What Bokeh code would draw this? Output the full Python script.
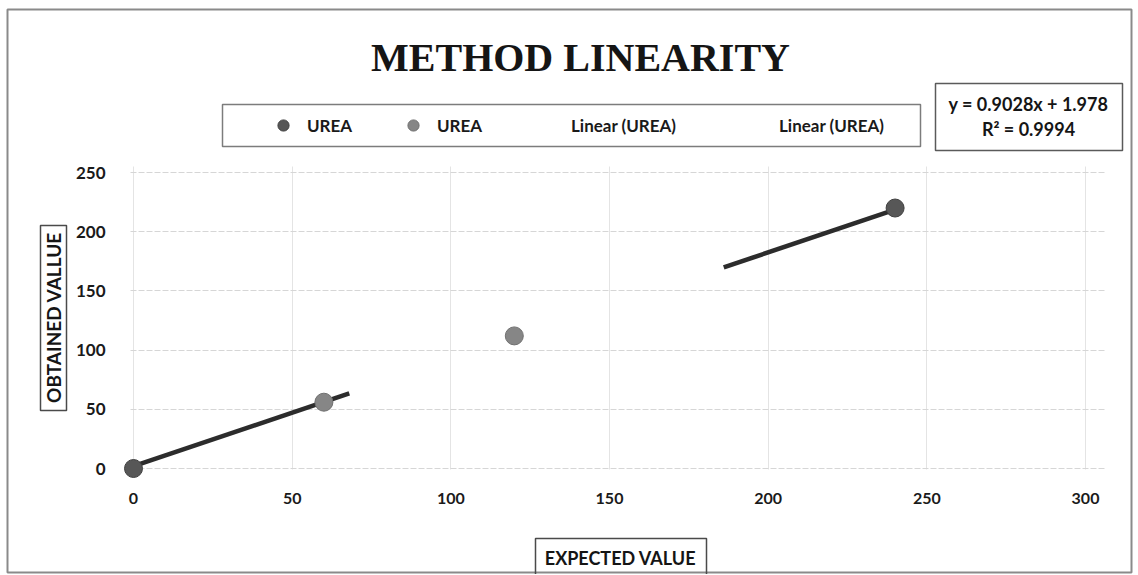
import math
from bokeh.plotting import figure
from bokeh.models import Range1d, Label, Legend, LegendItem, FixedTicker, BoxAnnotation, Grid
from bokeh.embed import file_html
from bokeh.resources import INLINE

# ---------------- data ----------------
title_text = "METHOD LINEARITY"
x_title = "EXPECTED VALUE"
y_title = "OBTAINED VALLUE"
series_name = "UREA"
series1_x = [0, 240]
series1_y = [0, 220]
series2_x = [60, 120]
series2_y = [56, 112]
slope = 0.9028
intercept = 1.978
r_squared = 0.9994
trend1_x = [0, 68]
trend2_x = [186, 240]
x_ticks = [0, 50, 100, 150, 200, 250, 300]
y_ticks = [0, 50, 100, 150, 200, 250]

# ---------------- layout ----------------
W, H = 1136, 574
FONT = "Lato"
# pixel positions of the plot area (canvas px, from top-left)
px_x0, px_x300 = 133.0, 1085.0
px_y0, px_y250 = 468.0, 172.0
sx = (px_x300 - px_x0) / 300.0
sy = (px_y0 - px_y250) / 250.0
x_start = -px_x0 / sx
x_end = 300.0 + (W - px_x300) / sx
y_end = 250.0 + px_y250 / sy
y_start = -(H - px_y0) / sy


def up(y):  # canvas y (top-down) -> screen y (bottom-up)
    return H - y


p = figure(width=W, height=H, output_backend="svg", toolbar_location=None,
           title_location=None,
           x_range=Range1d(x_start, x_end), y_range=Range1d(y_start, y_end),
           min_border=0, min_border_left=0, min_border_right=0,
           min_border_top=0, min_border_bottom=0)
p.background_fill_color = "white"
p.border_fill_color = "white"
p.outline_line_color = None

# axes (drawn at the data origin, labels outside the plot area)
for ax in (p.xaxis[0], p.yaxis[0]):
    ax.fixed_location = 0
    ax.axis_line_color = None
    ax.major_tick_line_color = None
    ax.minor_tick_line_color = None
    ax.major_label_text_font = FONT
    ax.major_label_text_font_style = "bold"
    ax.major_label_text_color = "#1a1a1a"
p.xaxis[0].ticker = FixedTicker(ticks=x_ticks)
p.yaxis[0].ticker = FixedTicker(ticks=y_ticks)
p.xaxis[0].major_label_text_font_size = "16px"
p.yaxis[0].major_label_text_font_size = "17px"
p.xaxis[0].major_label_standoff = 18
p.yaxis[0].major_label_standoff = 22

# grid limited to the plot area
xg, yg = p.xgrid[0], p.ygrid[0]
xg.ticker = FixedTicker(ticks=x_ticks)
yg.ticker = FixedTicker(ticks=y_ticks)
if "cross_bounds" in Grid.properties():
    xg.cross_bounds = (-1, 255)
    yg.cross_bounds = (-1, 306)
    xg.grid_line_color = "#e4e4e4"
    yg.grid_line_color = "#d6d6d6"
    yg.grid_line_dash = "6 2"
else:
    xg.grid_line_color = None
    yg.grid_line_color = None
    p.segment(x0=x_ticks, y0=[-1] * len(x_ticks), x1=x_ticks, y1=[255] * len(x_ticks),
              line_color="#e4e4e4", line_width=1)
    p.segment(x0=[-1] * len(y_ticks), y0=y_ticks, x1=[306] * len(y_ticks), y1=y_ticks,
              line_color="#d6d6d6", line_width=1, line_dash="6 2")

# trendlines
t1y = [slope * x + intercept for x in trend1_x]
t2y = [slope * x + intercept for x in trend2_x]
p.line(trend1_x, t1y, line_color="#2c2c2c", line_width=4.5)
p.line(trend2_x, t2y, line_color="#2c2c2c", line_width=4.5)

# points
r1 = p.scatter(series1_x, series1_y, size=18, fill_color="#575757", line_color="#414141")
r2 = p.scatter(series2_x, series2_y, size=18, fill_color="#868686", line_color="#707070")
d1 = p.line([], [], line_alpha=0)
d2 = p.line([], [], line_alpha=0)


def box(left, right, top, bottom, color="#6a6a6a", width=1.5):
    p.add_layout(BoxAnnotation(left=left, right=right, top=up(top), bottom=up(bottom),
                               left_units="screen", right_units="screen",
                               top_units="screen", bottom_units="screen",
                               fill_alpha=0, line_color=color, line_alpha=1.0,
                               line_width=width, level="overlay"))


def label(x, y, text, size, font=FONT, angle=0.0):
    p.add_layout(Label(x=x, y=up(y), x_units="screen", y_units="screen", text=text,
                       angle=angle, text_font=font, text_font_style="bold",
                       text_font_size=size, text_align="center", text_baseline="middle",
                       text_color="#151515"))


# outer chart border
box(7, 1131, 9, 572, color="#8a8a8a", width=2)

# title
label(580, 57, title_text, "40px", font="Liberation Serif")

# legend
box(222, 920, 104, 146, color="#7c7c7c", width=1.5)


def mk_legend(items, x, y, label_width, spacing):
    lg = Legend(items=items, location=(x, up(y)), orientation="horizontal",
                padding=0, margin=0, spacing=spacing, label_width=label_width,
                glyph_width=28, glyph_height=28, label_standoff=10,
                border_line_color=None, background_fill_alpha=0,
                label_text_font=FONT, label_text_font_style="bold",
                label_text_font_size="17px", label_text_color="#1a1a1a")
    p.add_layout(lg, "center")


mk_legend([LegendItem(label=series_name, renderers=[r1]),
           LegendItem(label=series_name, renderers=[r2])], 269, 139, 48, 44)
mk_legend([LegendItem(label="Linear (" + series_name + ")", renderers=[d1]),
           LegendItem(label="Linear (" + series_name + ")", renderers=[d2])], 533, 139, 112, 58)

# trendline equation
box(935, 1122, 83, 150, color="#5a5a5a")
label(1028, 103, "y = %sx + %s" % (slope, intercept), "18px")
label(1028, 128, "R² = %s" % r_squared, "18px")

# axis titles (boxed)
box(40, 66, 225, 410, color="#4a4a4a")
label(53, 317, y_title, "19px", angle=math.pi / 2)
box(535, 706, 538, 590, color="#4a4a4a")
label(620, 557, x_title, "18px")

open("out.html", "w").write(file_html(p, INLINE))
